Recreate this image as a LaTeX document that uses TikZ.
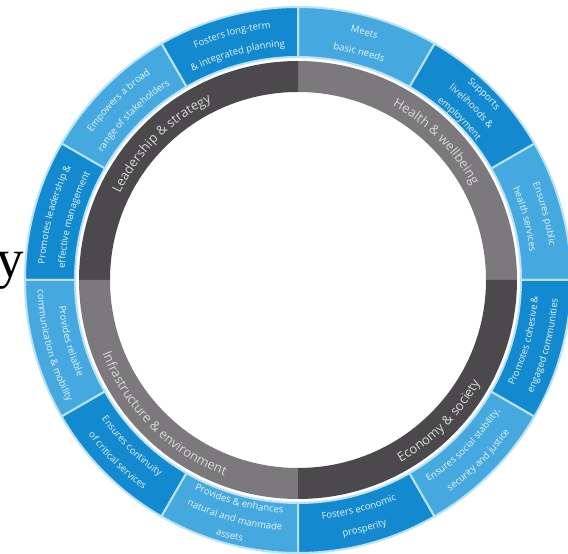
\documentclass[tikz,border=0pt]{standalone}
\usepackage{fontspec}
\setmainfont{Open Sans}
\newfontfamily\serifY{Liberation Serif}
\usetikzlibrary{decorations.text}
\definecolor{db}{HTML}{1389D0}
\definecolor{lb}{HTML}{45A8DE}
\definecolor{gdark}{HTML}{4B494B}
\definecolor{gmid}{HTML}{7B797B}
\definecolor{edge}{HTML}{B8E2F6}
\definecolor{segtext}{HTML}{EAF5FC}
\definecolor{ringtext}{HTML}{D8D8D8}
\newcommand\segf{\fontsize{9.5pt}{11pt}\selectfont}
\newcommand\ringf{\fontsize{13pt}{15pt}\selectfont}
% clockwise line (tops outward): mid angle, baseline radius, text
\newcommand\cwline[3]{\path[decorate, decoration={text along path, text color=segtext, text={|\segf|#3}, text align=center}] ({#1+30}:#2) arc[start angle=#1+30, end angle=#1-30, radius=#2];}
% counterclockwise line (tops inward)
\newcommand\ccwline[3]{\path[decorate, decoration={text along path, text color=segtext, text={|\segf|#3}, text align=center}] ({#1-30}:#2) arc[start angle=#1-30, end angle=#1+30, radius=#2];}
\newcommand\cwring[2]{\path[decorate, decoration={text along path, text color=ringtext, text={|\ringf|#2}, text align=center}] ({#1+70}:198) arc[start angle=#1+70, end angle=#1-70, radius=198];}
\newcommand\ccwring[2]{\path[decorate, decoration={text along path, text color=ringtext, text={|\ringf|#2}, text align=center}] ({#1-70}:209) arc[start angle=#1-70, end angle=#1+70, radius=209];}
\begin{document}
\begin{tikzpicture}[x=1pt,y=1pt,
  seg/.style={fill=#1, draw=edge, line width=2pt},
  quad/.style={fill=#1}]
\useasboundingbox (0,0) rectangle (568,554);
\clip (0,0) rectangle (568,554);
\node[font=\serifY\fontsize{55pt}{60pt}\selectfont, anchor=base west, inner sep=0pt, text=black] (ychar) at (-4,276) {y};
\begin{scope}[shift={(298,274)}]
% grey ring
\foreach \a/\c in {0/gmid,90/gdark,180/gmid,270/gdark}{
  \path[quad=\c] (\a:188) -- (\a:219) arc[start angle=\a, end angle=\a+90, radius=219] -- ({\a+90}:188) arc[start angle=\a+90, end angle=\a, radius=188] -- cycle;
}
% blue segments
\foreach \a/\c in {0/lb,30/db,60/lb,90/db,120/lb,150/db,180/lb,210/db,240/lb,270/db,300/lb,330/db}{
  \path[seg=\c] (\a:223) -- (\a:273) arc[start angle=\a, end angle=\a+30, radius=273] -- ({\a+30}:223) arc[start angle=\a+30, end angle=\a, radius=223] -- cycle;
}
% ring labels
\cwring{135}{Leadership {\&} strategy}
\cwring{45}{Health {\&} wellbeing}
\ccwring{-45}{Economy {\&} society}
\ccwring{-135}{Infrastructure {\&} environment}
% upper half segment texts
\cwline{105}{253.5}{Fosters long-term}
\cwline{105}{233.5}{{\&} integrated planning}
\cwline{75}{253.5}{Meets}
\cwline{75}{233.5}{basic needs}
\cwline{45}{260.5}{Supports}
\cwline{45}{243.5}{livelihoods {\&}}
\cwline{45}{226.5}{employment}
\cwline{15}{253.5}{Ensures public}
\cwline{15}{233.5}{health services}
\cwline{165}{253.5}{Promotes leadership {\&}}
\cwline{165}{233.5}{effective management}
\cwline{135}{253.5}{Empowers a broad}
\cwline{135}{233.5}{range of stakeholders}
% lower half segment texts
\ccwline{-15}{240.5}{Promotes cohesive {\&}}
\ccwline{-15}{260.5}{engaged communities}
\ccwline{-45}{240.5}{Ensures social stability,}
\ccwline{-45}{260.5}{security and justice}
\ccwline{-75}{240.5}{Fosters economic}
\ccwline{-75}{260.5}{prosperity}
\ccwline{-105}{233.5}{Provides {\&} enhances}
\ccwline{-105}{250.5}{natural and manmade}
\ccwline{-105}{267.5}{assets}
\ccwline{-135}{240.5}{Ensures continuity}
\ccwline{-135}{260.5}{of critical services}
\ccwline{-165}{240.5}{Provides reliable}
\ccwline{-165}{260.5}{communication {\&} mobility}
\end{scope}
\end{tikzpicture}
\end{document}
